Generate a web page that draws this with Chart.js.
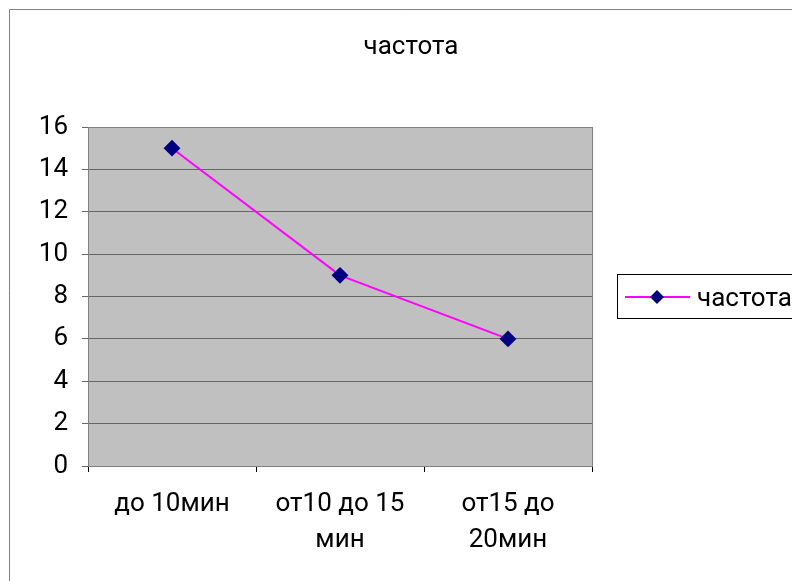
<!DOCTYPE html>
<html>
<head>
<meta charset="utf-8">
<script src="https://cdn.jsdelivr.net/npm/chart.js@4.4.1/dist/chart.umd.min.js"></script>
<style>
  html, body { margin: 0; padding: 0; background: #fff; }
  #wrap { width: 792px; height: 581px; }
</style>
</head>
<body>
<div id="wrap"><canvas id="c" width="792" height="581"></canvas></div>
<script>
const categories = ['до 10мин', ['от10 до 15', 'мин'], ['от15 до', '20мин']];
const seriesName = 'частота';
const values = [15, 9, 6];
const yTicks = [0, 2, 4, 6, 8, 10, 12, 14, 16];

const FONT = 'Roboto, "Liberation Sans", Arial, sans-serif';
const LINE = '#ff00ff';
const MARK = '#000080';

// frame, title and the boxed legend
const decor = {
  id: 'decor',
  beforeDraw(chart) {
    const { ctx, chartArea: a } = chart;
    ctx.save();
    ctx.fillStyle = '#c0c0c0';
    ctx.fillRect(a.left, a.top, a.right - a.left, a.bottom - a.top);
    ctx.restore();
  },
  afterDraw(chart) {
    const { ctx, chartArea: a } = chart;
    ctx.save();
    // outer chart frame
    ctx.strokeStyle = '#808080';
    ctx.lineWidth = 1;
    ctx.beginPath();
    ctx.moveTo(9.5, 581);
    ctx.lineTo(9.5, 9.5);
    ctx.lineTo(792, 9.5);
    ctx.stroke();
    // plot border
    ctx.strokeStyle = '#808080';
    ctx.strokeRect(a.left + 0.5, a.top + 0.5, a.right - a.left, a.bottom - a.top);
    // title
    ctx.fillStyle = '#000';
    ctx.font = '26px ' + FONT;
    ctx.textAlign = 'center';
    ctx.textBaseline = 'alphabetic';
    ctx.fillText(seriesName, 411, 54);
    // legend
    ctx.strokeStyle = '#000';
    ctx.strokeRect(617.5, 274.5, 200, 44);
    const ly = 297;
    ctx.strokeStyle = LINE;
    ctx.lineWidth = 2;
    ctx.beginPath();
    ctx.moveTo(625, ly);
    ctx.lineTo(690, ly);
    ctx.stroke();
    ctx.fillStyle = MARK;
    ctx.beginPath();
    ctx.moveTo(657, ly - 7);
    ctx.lineTo(664, ly);
    ctx.lineTo(657, ly + 7);
    ctx.lineTo(650, ly);
    ctx.closePath();
    ctx.fill();
    ctx.fillStyle = '#000';
    ctx.textAlign = 'left';
    ctx.fillText(seriesName, 697, ly + 9);
    ctx.restore();
  }
};

new Chart(document.getElementById('c'), {
  type: 'line',
  data: {
    labels: categories,
    datasets: [{
      label: seriesName,
      data: values,
      borderColor: LINE,
      borderWidth: 2,
      pointStyle: 'rectRot',
      pointRadius: 7,
      pointHoverRadius: 7,
      pointBackgroundColor: MARK,
      pointBorderColor: MARK,
      tension: 0
    }]
  },
  options: {
    responsive: false,
    animation: false,
    events: [],
    layout: { padding: { left: 0, top: 127, right: 200, bottom: 0 } },
    plugins: { legend: { display: false }, title: { display: false }, tooltip: { enabled: false } },
    scales: {
      x: {
        offset: true,
        afterFit: s => { s.height = 115; },
        grid: { offset: true, drawOnChartArea: false, color: '#000', tickLength: 6 },
        border: { display: true, color: '#808080' },
        ticks: { color: '#000', font: { family: FONT, size: 26, lineHeight: 1.4 }, padding: 14, maxRotation: 0 }
      },
      y: {
        min: 0,
        max: 16,
        afterFit: s => { s.width = 88; },
        afterBuildTicks: s => { s.ticks = yTicks.map(v => ({ value: v })); },
        grid: { color: '#666', tickLength: 6 },
        border: { display: true, color: '#808080' },
        ticks: { color: '#000', font: { family: FONT, size: 26 }, padding: 14 }
      }
    }
  },
  plugins: [decor]
});
</script>
</body>
</html>
